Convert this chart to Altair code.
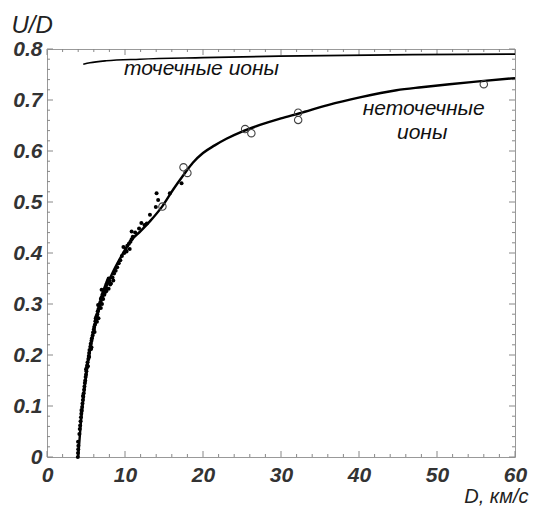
import altair as alt
import pandas as pd

# ---- data ----
# "non-point ions" curve
curve_np_D = [4.0, 4.3, 4.7, 5.2, 5.8, 6.5, 7.3, 8.3, 9.5, 10.8, 12.0, 13.3, 14.8, 16.2,
              17.5, 18.7, 20.0, 21.5, 23.0, 25.0, 27.3, 30.0, 32.4, 36.0, 40.1, 44.8,
              48.0, 51.6, 55.0, 60.0]
curve_np_U = [0.0, 0.06, 0.12, 0.18, 0.232, 0.28, 0.322, 0.358, 0.393, 0.425, 0.443, 0.464,
              0.492, 0.525, 0.553, 0.577, 0.596, 0.611, 0.624, 0.638, 0.651, 0.664, 0.674,
              0.690, 0.705, 0.719, 0.725, 0.731, 0.736, 0.743]

# "point ions" curve
curve_p_D = [4.65, 5.5, 7.6, 11.9, 20.0, 29.8, 46.9, 60.0]
curve_p_U = [0.770, 0.773, 0.777, 0.780, 0.783, 0.786, 0.789, 0.790]

# experimental dots
dots_D = [3.95, 3.97, 4.0, 4.02, 3.98, 4.15, 4.2, 4.25, 4.3, 4.35, 4.4, 4.42, 4.5, 4.55,
          4.6, 4.62, 4.7, 4.75, 4.8, 4.85, 4.9, 4.95, 5.0, 5.05, 5.1, 5.15, 5.2, 5.3, 5.35,
          5.4, 5.45, 5.55, 5.6, 5.7, 5.75, 5.85, 5.9, 6.0, 6.05, 6.15, 6.2, 6.3, 6.35, 6.45,
          6.5, 6.6, 6.7, 6.75, 6.85, 6.9, 7.0, 7.1, 7.2, 7.3, 7.4, 7.5, 7.6, 7.7, 7.8, 7.9,
          5.0, 5.4, 5.7, 6.1, 6.4, 6.6, 6.9, 7.2, 7.4, 7.0, 7.6, 7.9, 8.0, 8.2, 8.4, 8.6,
          8.8, 9.0, 9.2, 9.4, 9.6, 9.9, 10.1, 10.3, 10.5, 10.7, 10.85, 10.85, 11.0, 11.3,
          11.8, 12.1, 12.5, 12.8, 13.2, 13.95, 14.05, 14.25, 15.75, 17.25, 10.6, 10.2, 9.8,
          6.25, 6.55, 7.05, 7.35, 7.65, 8.1, 8.5, 4.45, 4.65, 5.25, 5.65]
dots_U = [0.0, 0.008, 0.015, 0.022, 0.03, 0.045, 0.055, 0.062, 0.07, 0.078, 0.085, 0.092,
          0.098, 0.105, 0.112, 0.12, 0.125, 0.132, 0.138, 0.145, 0.15, 0.157, 0.162, 0.168,
          0.175, 0.18, 0.186, 0.192, 0.198, 0.204, 0.21, 0.216, 0.222, 0.228, 0.233, 0.238,
          0.244, 0.25, 0.255, 0.26, 0.266, 0.27, 0.276, 0.28, 0.286, 0.29, 0.294, 0.3,
          0.304, 0.31, 0.313, 0.318, 0.322, 0.326, 0.33, 0.334, 0.338, 0.342, 0.346, 0.35,
          0.172, 0.196, 0.215, 0.245, 0.265, 0.272, 0.292, 0.31, 0.322, 0.328, 0.325, 0.33,
          0.345, 0.34, 0.352, 0.36, 0.365, 0.372, 0.38, 0.386, 0.394, 0.4, 0.408, 0.414,
          0.418, 0.422, 0.427, 0.442, 0.432, 0.44, 0.448, 0.459, 0.455, 0.458, 0.475, 0.49,
          0.517, 0.504, 0.517, 0.537, 0.408, 0.403, 0.412, 0.272, 0.298, 0.3, 0.318, 0.33,
          0.338, 0.346, 0.09, 0.118, 0.178, 0.212]

# open circles
circ_D = [14.8, 17.5, 18.0, 25.4, 26.2, 32.2, 32.2, 56.0]
circ_U = [0.491, 0.568, 0.557, 0.643, 0.635, 0.675, 0.661, 0.731]

# annotations
ann_text = ["точечные ионы", "неточечные", "ионы"]
ann_D = [19.8, 48.3, 48.1]
ann_U = [0.761, 0.682, 0.635]

# axis ticks
x_major = [0, 10, 20, 30, 40, 50, 60]
x_minor = [2, 4, 6, 8, 12, 14, 16, 18, 22, 24, 26, 28, 32, 34, 36, 38, 42, 44, 46, 48,
           52, 54, 56, 58]
y_major = [0.0, 0.1, 0.2, 0.3, 0.4, 0.5, 0.6, 0.7, 0.8]
y_minor = [0.02, 0.04, 0.06, 0.08, 0.12, 0.14, 0.16, 0.18, 0.22, 0.24, 0.26, 0.28,
           0.32, 0.34, 0.36, 0.38, 0.42, 0.44, 0.46, 0.48, 0.52, 0.54, 0.56, 0.58,
           0.62, 0.64, 0.66, 0.68, 0.72, 0.74, 0.76, 0.78]

W, H = 468, 408
FONT = "Liberation Sans"
TICK_COLOR = "#888"

xs = alt.Scale(domain=[0, 60], nice=False, zero=False)
ys = alt.Scale(domain=[0, 0.8], nice=False, zero=False)

x_axis = alt.Axis(values=x_major, ticks=False, domain=False, grid=False,
                  labelFont=FONT, labelFontSize=21, labelFontWeight="bold",
                  labelFontStyle="italic", labelColor="#333", labelPadding=7,
                  labelFlush=False,
                  title="D, км/с", titleFont=FONT, titleFontSize=20,
                  titleFontWeight="normal", titleFontStyle="italic", titleColor="#222",
                  titleX=481, titleY=39, titleAlign="right", titleBaseline="middle",
                  titleAnchor="end")
y_axis = alt.Axis(values=y_major, ticks=False, domain=False, grid=False,
                  labelFont=FONT, labelFontSize=21, labelFontWeight="bold",
                  labelFontStyle="italic", labelColor="#333", labelPadding=5,
                  labelFlush=False,
                  labelExpr="datum.value == 0 ? '0' : format(datum.value, '.1f')",
                  title="U/D", titleFont=FONT, titleFontSize=24,
                  titleFontWeight="normal", titleFontStyle="italic", titleColor="#222",
                  titleAngle=0, titleX=-36, titleY=-24, titleAlign="left",
                  titleBaseline="middle", titleAnchor="start")

X = alt.X("D:Q", scale=xs, axis=x_axis)
Y = alt.Y("U:Q", scale=ys, axis=y_axis)

df_np = pd.DataFrame({"D": curve_np_D, "U": curve_np_U})
df_p = pd.DataFrame({"D": curve_p_D, "U": curve_p_U})
df_dots = pd.DataFrame({"D": dots_D, "U": dots_U})
df_circ = pd.DataFrame({"D": circ_D, "U": circ_U})
df_ann = pd.DataFrame({"D": ann_D, "U": ann_U, "t": ann_text})

def xticks(vals, length):
    d = pd.DataFrame({"D": vals})
    bottom = alt.Chart(d).mark_rule(color=TICK_COLOR, strokeWidth=1).encode(
        x=X, y=alt.value(H), y2=alt.value(H - length))
    top = alt.Chart(d).mark_rule(color=TICK_COLOR, strokeWidth=1).encode(
        x=X, y=alt.value(0), y2=alt.value(length))
    return [bottom, top]

def yticks(vals, length):
    d = pd.DataFrame({"U": vals})
    left = alt.Chart(d).mark_rule(color=TICK_COLOR, strokeWidth=1).encode(
        y=Y, x=alt.value(0), x2=alt.value(length))
    right = alt.Chart(d).mark_rule(color=TICK_COLOR, strokeWidth=1).encode(
        y=Y, x=alt.value(W), x2=alt.value(W - length))
    return [left, right]

tick_layers = xticks(x_major, 6) + xticks(x_minor, 3) + yticks(y_major, 6) + yticks(y_minor, 3)

line_np = alt.Chart(df_np).mark_line(color="#000", strokeWidth=2.4,
                                     interpolate="monotone").encode(x=X, y=Y)
line_p = alt.Chart(df_p).mark_line(color="#000", strokeWidth=1.6,
                                   interpolate="monotone").encode(x=X, y=Y)
dots = alt.Chart(df_dots).mark_circle(color="#000", size=16, opacity=1).encode(x=X, y=Y)
circs = alt.Chart(df_circ).mark_point(shape="circle", color="#444", size=55,
                                      strokeWidth=1.1, filled=False, opacity=1).encode(x=X, y=Y)
ann = alt.Chart(df_ann).mark_text(font=FONT, fontSize=21, fontStyle="italic",
                                  color="#111", align="center", baseline="middle").encode(
    x=X, y=Y, text="t:N")

chart = alt.layer(*tick_layers, line_np, line_p, dots, circs, ann).properties(
    width=W, height=H,
    autosize=alt.AutoSizeParams(type="none"),
    padding={"left": 47, "top": 49, "right": 21, "bottom": 49},
    background="white",
).configure_view(stroke="#999", strokeWidth=1)

chart.save("out.html", embed_options={"renderer": "svg", "actions": False})
